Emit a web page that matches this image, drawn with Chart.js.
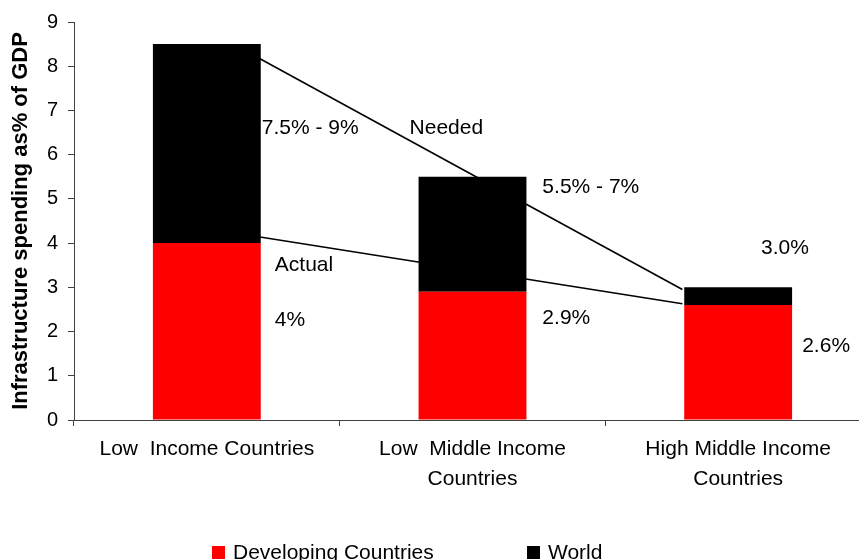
<!DOCTYPE html>
<html><head><meta charset="utf-8">
<script src="https://cdn.jsdelivr.net/npm/chart.js@4"></script>
<style>
html,body{margin:0;padding:0;overflow:hidden;background:#fff;width:859px;height:560px}
#wrap{position:absolute;left:0;top:0;width:880px;height:560px}
</style>
</head><body><div id="wrap"><canvas id="c"></canvas></div>
<script>
// ---- data ----
const categories = [['Low  Income Countries'], ['Low  Middle Income', 'Countries'], ['High Middle Income', 'Countries']];
const seriesNames = ['Developing Countries', 'World'];
const developingActual = [4.0, 2.9, 2.6];
const worldAdditional = [4.5, 2.6, 0.4];   // stacked on top -> totals 8.5, 5.5, 3.0
const yTicks = [0, 1, 2, 3, 4, 5, 6, 7, 8, 9];
const neededLineX = [0.2, 1.79];
const neededLineY = [8.17, 2.95];
const actualLineX = [0.2, 1.79];
const actualLineY = [4.14, 2.63];
const noteTexts = ['7.5% - 9%', 'Needed', 'Actual', '4%', '5.5% - 7%', '2.9%', '3.0%', '2.6%'];
const noteValueY = [6.59, 6.59, 3.51, 2.25, 5.27, 2.3, 3.89, 1.67];

// ---- placement of notes (category-axis units) ----
const noteAnchorX = [0.207, 0.763, 0.256, 0.256, 1.263, 1.263, 2.086, 2.241];

Chart.defaults.font.family = '"Liberation Sans", Arial, Helvetica, sans-serif';
Chart.defaults.color = '#000';

const notesPlugin = {
  id: 'notes',
  afterDatasetsDraw(chart) {
    const ctx = chart.ctx, xs = chart.scales.xl, ys = chart.scales.y;
    ctx.save();
    ctx.font = '21px "Liberation Sans", Arial, sans-serif';
    ctx.fillStyle = '#000';
    ctx.textAlign = 'left';
    ctx.textBaseline = 'middle';
    noteTexts.forEach((t, i) => {
      ctx.fillText(t, xs.getPixelForValue(noteAnchorX[i]), ys.getPixelForValue(noteValueY[i]));
    });
    ctx.restore();
  }
};

const legendPlugin = {
  id: 'bottomLegend',
  afterDraw(chart, args, opts) {
    const ctx = chart.ctx;
    ctx.save();
    ctx.font = '21px "Liberation Sans", Arial, sans-serif';
    ctx.textAlign = 'left';
    ctx.textBaseline = 'alphabetic';
    const bars = chart.data.datasets.filter(d => d.type === 'bar');
    bars.forEach((d, i) => {
      const x = opts.startX[i];
      ctx.fillStyle = d.backgroundColor;
      ctx.fillRect(x, opts.boxTop, opts.box, opts.box);
      ctx.fillStyle = '#000';
      ctx.fillText(d.label, x + opts.textGap, opts.baseline);
    });
    ctx.restore();
  }
};

new Chart(document.getElementById('c'), {
  data: {
    labels: categories,
    datasets: [
      { type: 'bar', label: seriesNames[0], data: developingActual, backgroundColor: '#ff0000', xAxisID: 'x', yAxisID: 'y', order: 1, grouped: false },
      { type: 'bar', label: seriesNames[1], data: worldAdditional, backgroundColor: '#000000', xAxisID: 'x', yAxisID: 'y', order: 1, grouped: false },
      { type: 'line', label: 'Needed', data: neededLineX.map((x, i) => ({ x, y: neededLineY[i] })), xAxisID: 'xl', yAxisID: 'yl', order: 5, borderColor: '#000', borderWidth: 1.6, pointRadius: 0, fill: false },
      { type: 'line', label: 'Actual', data: actualLineX.map((x, i) => ({ x, y: actualLineY[i] })), xAxisID: 'xl', yAxisID: 'yl', order: 5, borderColor: '#000', borderWidth: 1.6, pointRadius: 0, fill: false }
    ]
  },
  options: {
    indexAxis: 'x',
    responsive: true,
    maintainAspectRatio: false,
    animation: false,
    events: [],
    datasets: { bar: { categoryPercentage: 1, barPercentage: 0.406 } },
    layout: { padding: { left: 0, right: 9, top: 18, bottom: 65 } },
    plugins: {
      legend: { display: false },
      tooltip: { enabled: false },
      bottomLegend: { startX: [212, 527], boxTop: 546, box: 13, textGap: 21, baseline: 559 }
    },
    scales: {
      x: {
        type: 'category',
        stacked: true,
        offset: true,
        grid: { offset: true, drawOnChartArea: false, drawTicks: true, tickLength: 6, tickColor: '#404040' },
        border: { color: '#404040', width: 1 },
        ticks: { font: { size: 21, lineHeight: 1.43 }, padding: 8, maxRotation: 0, autoSkip: false, color: '#000' },
        afterFit(s) { s.height = 75; }
      },
      xl: { type: 'linear', min: -0.5, max: 2.5, display: false },
      y: {
        stacked: true,
        min: 0, max: 9,
        afterBuildTicks(s) { s.ticks = yTicks.map(v => ({ value: v })); },
        grid: { drawOnChartArea: false, drawTicks: true, tickLength: 6, tickColor: '#404040' },
        border: { color: '#404040', width: 1 },
        ticks: { font: { size: 20 }, padding: 10, color: '#000' },
        title: { display: true, text: 'Infrastructure spending as% of GDP', font: { size: 22, weight: 'bold' }, padding: { top: 8, bottom: 0 }, color: '#000' },
        afterFit(s) { s.width = 74; }
      },
      yl: { type: 'linear', min: 0, max: 9, display: false, stacked: false }
    }
  },
  plugins: [notesPlugin, legendPlugin]
});
</script>
</body></html>
